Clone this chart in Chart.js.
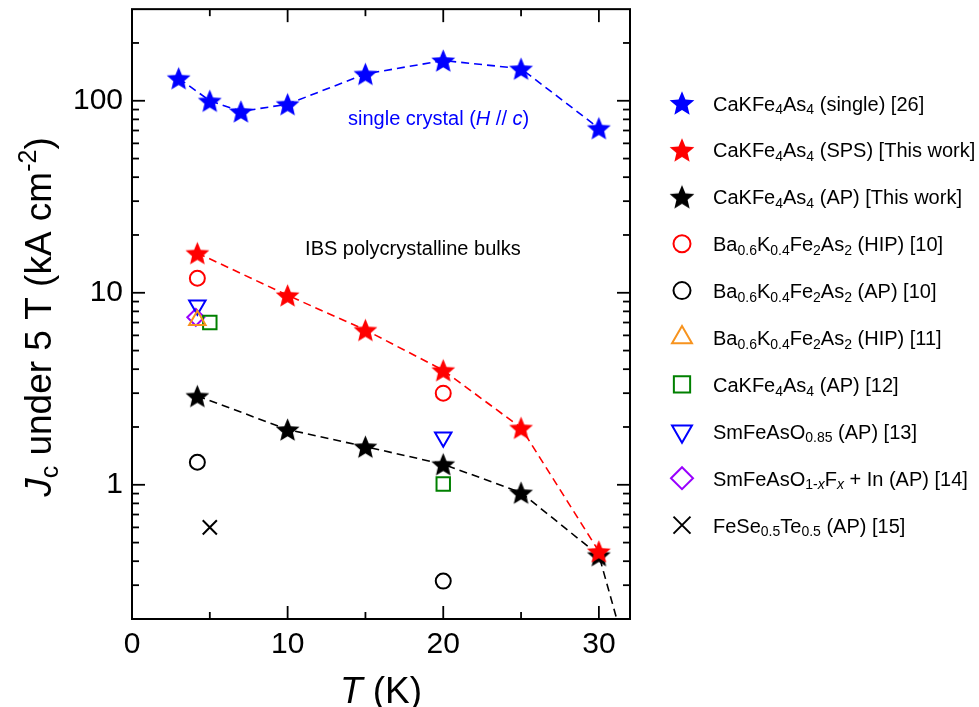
<!DOCTYPE html>
<html><head><meta charset="utf-8">
<script src="https://cdn.jsdelivr.net/npm/chart.js@4.4.1/dist/chart.umd.min.js"></script>
<style>html,body{margin:0;padding:0;background:#fff;}#wrap{width:979px;height:707px;position:relative;}</style>
</head><body><div id="wrap"><canvas id="c" width="979" height="707"></canvas></div>
<script>
const FONT = '"Liberation Sans", Arial, Helvetica, sans-serif';

// ---- data (T in K, Jc in kA cm^-2 at 5 T) ----
const tSingle = [3, 5, 7, 10, 15, 20, 25, 30];
const jcSingle = [131, 100, 88, 96, 138, 162, 147, 72];
const tSPS = [4.2, 10, 15, 20, 25, 30];
const jcSPS = [16.1, 9.7, 6.4, 3.95, 1.98, 0.45];
const tAP = [4.2, 10, 15, 20, 25, 30, 31.15];
const jcAP = [2.9, 1.94, 1.58, 1.28, 0.91, 0.43, 0.2];
const tBaHIP10 = [4.2, 20];
const jcBaHIP10 = [11.9, 3.0];
const tBaAP10 = [4.2, 20];
const jcBaAP10 = [1.31, 0.315];
const tBaHIP11 = [4.2];
const jcBaHIP11 = [7.2];
const tCaAP12 = [5, 20];
const jcCaAP12 = [7.0, 1.01];
const tSm13 = [4.2, 20];
const jcSm13 = [8.6, 1.77];
const tSm14 = [4.1];
const jcSm14 = [7.45];
const tFeSe15 = [5];
const jcFeSe15 = [0.6];

// ---- ticks ----
const xTickValues = [0, 5, 10, 15, 20, 25, 30];
const xTickLabels = {0: '0', 10: '10', 20: '20', 30: '30'};
const yTickValues = [0.2,0.3,0.4,0.5,0.6,0.7,0.8,0.9,1,2,3,4,5,6,7,8,9,10,20,30,40,50,60,70,80,90,100,200];
const yTickLabels = {1: '1', 10: '10', 100: '100'};

// ---- texts ----
const legendLabels = [
  'CaKFe_{4}As_{4} (single) [26]',
  'CaKFe_{4}As_{4} (SPS) [This work]',
  'CaKFe_{4}As_{4} (AP) [This work]',
  'Ba_{0.6}K_{0.4}Fe_{2}As_{2} (HIP) [10]',
  'Ba_{0.6}K_{0.4}Fe_{2}As_{2} (AP) [10]',
  'Ba_{0.6}K_{0.4}Fe_{2}As_{2} (HIP) [11]',
  'CaKFe_{4}As_{4} (AP) [12]',
  'SmFeAsO_{0.85} (AP) [13]',
  'SmFeAsO_{1-*x*}F_{*x*} + In (AP) [14]',
  'FeSe_{0.5}Te_{0.5} (AP) [15]'
];
const yTitle = '*J*_{c} under 5 T (kA cm^{-2})';
const xTitle = '*T* (K)';
const annotations = [
  {text: 'single crystal (*H* // *c*)', x: 19.7, y: 75, color: '#0000ff'},
  {text: 'IBS polycrystalline bulks', x: 18.05, y: 15.8, color: '#000000'}
];

function pts(xs, ys) { return xs.map((x, i) => ({x: x, y: ys[i]})); }

function makeStar(color, R) {
  const s = Math.ceil(2 * R + 4);
  const cv = document.createElement('canvas');
  cv.width = s; cv.height = s;
  const g = cv.getContext('2d');
  const cx = s / 2, cy = s / 2 + 0.095 * R, r = R * 0.45;
  g.beginPath();
  for (let i = 0; i < 10; i++) {
    const a = -Math.PI / 2 + i * Math.PI / 5;
    const rr = i % 2 === 0 ? R : r;
    g.lineTo(cx + rr * Math.cos(a), cy + rr * Math.sin(a));
  }
  g.closePath();
  g.fillStyle = color; g.fill();
  return cv;
}

function parseRich(s) {
  const segs = []; let italic = false, mode = 'n', buf = '';
  const push = () => { if (buf) { segs.push({t: buf, i: italic, m: mode}); buf = ''; } };
  for (let k = 0; k < s.length; k++) {
    const ch = s[k];
    if (ch === '*') { push(); italic = !italic; continue; }
    if ((ch === '_' || ch === '^') && s[k + 1] === '{') { push(); mode = ch === '_' ? 'sub' : 'sup'; k++; continue; }
    if (ch === '}' && mode !== 'n') { push(); mode = 'n'; continue; }
    buf += ch;
  }
  push();
  return segs;
}
function fontFor(sg, size) {
  return (sg.i ? 'italic ' : '') + (sg.m === 'n' ? size : Math.round(size * 0.68)) + 'px ' + FONT;
}
function drawRich(ctx, s, x, y, size, color, align) {
  const segs = parseRich(s);
  let w = 0;
  segs.forEach(sg => { ctx.font = fontFor(sg, size); sg.w = ctx.measureText(sg.t).width; w += sg.w; });
  let cx = align === 'center' ? x - w / 2 : x;
  ctx.fillStyle = color; ctx.textBaseline = 'alphabetic'; ctx.textAlign = 'left';
  segs.forEach(sg => {
    ctx.font = fontFor(sg, size);
    const dy = sg.m === 'sub' ? size * 0.18 : (sg.m === 'sup' ? -size * 0.4 : 0);
    ctx.fillText(sg.t, cx, y + dy);
    cx += sg.w;
  });
  return w;
}

const starBlue = makeStar('#0000ff', 12.5), starRed = makeStar('#ff0000', 12.5), starBlack = makeStar('#000000', 12.5);

function openSet(label, xs, ys, color, style, r, lr, rot) {
  return {label: label, data: pts(xs, ys), showLine: false, pointStyle: style, pointRadius: r,
    pointRotation: rot || 0, pointBorderColor: color, pointBackgroundColor: 'rgba(0,0,0,0)',
    pointBorderWidth: 2, borderColor: color, backgroundColor: 'rgba(0,0,0,0)', legendRadius: lr};
}
function starSet(label, xs, ys, color, img, radii) {
  return {label: label, data: pts(xs, ys), showLine: true, borderColor: color, borderWidth: 1.6,
    borderDash: [8, 5], pointStyle: img, pointRadius: radii || 6, backgroundColor: color,
    legendStyle: makeStar(color, 13)};
}

const datasets = [
  starSet(legendLabels[0], tSingle, jcSingle, '#0000ff', starBlue),
  starSet(legendLabels[1], tSPS, jcSPS, '#ff0000', starRed),
  starSet(legendLabels[2], tAP, jcAP, '#000000', starBlack, tAP.map((t, i) => i === tAP.length - 1 ? 0 : 6)),
  openSet(legendLabels[3], tBaHIP10, jcBaHIP10, '#ff0000', 'circle', 7.5, 8.5),
  openSet(legendLabels[4], tBaAP10, jcBaAP10, '#000000', 'circle', 7.5, 8.5),
  openSet(legendLabels[5], tBaHIP11, jcBaHIP11, '#f7931e', 'triangle', 9.5, 11.5),
  openSet(legendLabels[6], tCaAP12, jcCaAP12, '#008000', 'rect', 9.5, 11.5),
  openSet(legendLabels[7], tSm13, jcSm13, '#0000ff', 'triangle', 9.5, 11.5, 180),
  openSet(legendLabels[8], tSm14, jcSm14, '#9900ff', 'rectRot', 8.5, 11),
  openSet(legendLabels[9], tFeSe15, jcFeSe15, '#000000', 'crossRot', 10, 12)
];

const decor = {
  id: 'decor',
  afterDatasetsDraw(chart) {
    const {ctx, chartArea: a, scales: {x, y}} = chart;
    ctx.save();
    ctx.strokeStyle = '#000'; ctx.lineWidth = 2;
    ctx.strokeRect(a.left, a.top, a.right - a.left, a.bottom - a.top);
    ctx.lineWidth = 1.8;
    const line = (x1, y1, x2, y2) => { ctx.beginPath(); ctx.moveTo(x1, y1); ctx.lineTo(x2, y2); ctx.stroke(); };
    xTickValues.forEach(v => {
      const px = x.getPixelForValue(v);
      if (px <= a.left + 1 || px >= a.right - 1) return;
      const L = xTickLabels[v] ? 13 : 7;
      line(px, a.bottom, px, a.bottom - L); line(px, a.top, px, a.top + L);
    });
    yTickValues.forEach(v => {
      const py = y.getPixelForValue(v);
      if (py <= a.top + 1 || py >= a.bottom - 1) return;
      const L = yTickLabels[v] ? 13 : 7;
      line(a.left, py, a.left + L, py); line(a.right, py, a.right - L, py);
    });
    ctx.restore();
  },
  afterDraw(chart) {
    const {ctx, chartArea: a, scales: {x, y}} = chart;
    ctx.save();
    annotations.forEach(an => drawRich(ctx, an.text, x.getPixelForValue(an.x), y.getPixelForValue(an.y), 20, an.color, 'center'));
    drawRich(ctx, xTitle, (a.left + a.right) / 2, 703, 37, '#000', 'center');
    ctx.save();
    ctx.translate(51, (a.top + a.bottom) / 2 + 3);
    ctx.rotate(-Math.PI / 2);
    drawRich(ctx, yTitle, 0, 0, 37, '#000', 'center');
    ctx.restore();
    const lx = 682, tx = 713, ly0 = 103, dy = 46.9;
    chart.data.datasets.forEach((ds, i) => {
      const cy = ly0 + i * dy;
      ctx.save();
      ctx.strokeStyle = ds.pointBorderColor || ds.borderColor;
      ctx.fillStyle = 'rgba(0,0,0,0)';
      ctx.lineWidth = 2;
      Chart.helpers.drawPoint(ctx, {pointStyle: ds.legendStyle || ds.pointStyle, radius: ds.legendRadius || 10,
        rotation: ds.pointRotation || 0, borderWidth: 2}, lx, cy);
      ctx.restore();
      drawRich(ctx, legendLabels[i], tx, cy + 7.5, 20, '#000', 'left');
    });
    ctx.restore();
  }
};

new Chart(document.getElementById('c'), {
  type: 'scatter',
  data: {datasets: datasets},
  options: {
    responsive: false, animation: false, events: [],
    layout: {autoPadding: false, padding: {left: 0, top: 6, right: 349, bottom: 0}},
    plugins: {legend: {display: false}, tooltip: {enabled: false}},
    scales: {
      x: {
        type: 'linear', min: 0, max: 32,
        grid: {display: false, drawTicks: false}, border: {display: false},
        afterBuildTicks: s => { s.ticks = xTickValues.map(v => ({value: v})); },
        afterFit: s => { s.height = 88; },
        ticks: {autoSkip: false, maxRotation: 0, minRotation: 0, padding: 8, color: '#000',
          font: {family: FONT, size: 30},
          callback: v => (xTickLabels[v] !== undefined ? xTickLabels[v] : '')}
      },
      y: {
        type: 'logarithmic', min: 0.2, max: 300,
        grid: {display: false, drawTicks: false}, border: {display: false},
        afterBuildTicks: s => { s.ticks = yTickValues.map(v => ({value: v})); },
        afterFit: s => { s.width = 132; },
        ticks: {autoSkip: false, padding: 9, color: '#000',
          font: {family: FONT, size: 30, lineHeight: 0.01},
          callback: v => (yTickLabels[v] !== undefined ? yTickLabels[v] : '')}
      }
    }
  },
  plugins: [decor]
});
</script></body></html>
